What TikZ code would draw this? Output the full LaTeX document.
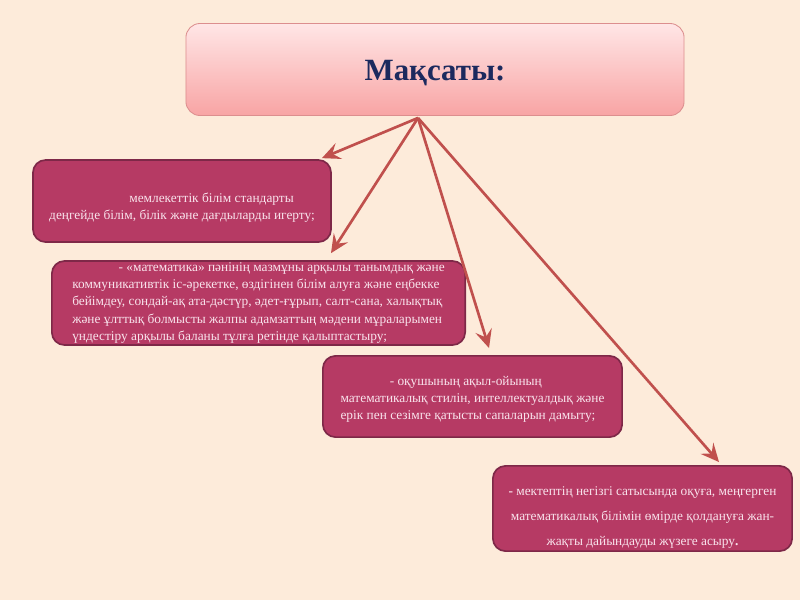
\documentclass[tikz,border=0pt]{standalone}
\usepackage{fontspec}
\setmainfont{Liberation Serif}
\usepackage{xcolor}
\usepackage{tikz}
\usetikzlibrary{arrows.meta,positioning,calc}
\definecolor{bgCream}{HTML}{FDEBDA}
\definecolor{goalFill}{HTML}{B63A64}
\definecolor{goalEdge}{HTML}{7E2848}
\definecolor{goalText}{HTML}{F9E3EC}
\definecolor{titleTop}{HTML}{FFE6E6}
\definecolor{titleBottom}{HTML}{F8A4A4}
\definecolor{titleEdge}{HTML}{DC8E8E}
\definecolor{titleNavy}{HTML}{1C2A5E}
\definecolor{arrowRed}{HTML}{C0504D}

\begin{document}
\begin{tikzpicture}[x=0.025cm,y=-0.025cm,
    goal/.style={draw=goalEdge, line width=1.2pt, fill=goalFill, rounded corners=9pt,
      text=goalText, inner sep=0pt, font=\fontsize{9.5}{12.1}\selectfont},
    arr/.style={draw=arrowRed, line width=1.9pt,
      -{Stealth[length=13pt,width=12pt,inset=5pt]}}]
    % Background
    \fill[bgCream] (0,0) rectangle (800,600);

    % Title
    \node[draw=titleEdge, line width=0.6pt, rounded corners=10pt,
      top color=titleTop, bottom color=titleBottom,
      minimum width=12.45cm, minimum height=2.3cm,
      text=titleNavy, font=\fontsize{22}{26}\selectfont\bfseries]
      (title) at (435,69.5) {\rule{0pt}{20pt}Мақсаты:};
    \coordinate (hub) at ($(title.south)+(-17,2)$);

    % Goals
    \node[goal, minimum width=7.45cm, minimum height=2.05cm, align=center]
      (std) at (182,201)
      {\rule{0pt}{16pt}\hspace*{42pt}мемлекеттік білім стандарты\\деңгейде білім, білік және дағдыларды игерту;};

    \node[goal, minimum width=10.33cm, minimum height=2.1cm, align=left]
      (math) at (258.5,303)
      {\hspace*{33pt}- «математика» пәнінің мазмұны арқылы танымдық және\\
       коммуникативтік іс-әрекетке, өздігінен білім алуға және еңбекке\\
       бейімдеу, сондай-ақ ата-дәстүр, әдет-ғұрып, салт-сана, халықтық\\
       және ұлттық болмысты жалпы адамзаттың мәдени мұраларымен\\
       үндестіру арқылы баланы тұлға ретінде қалыптастыру;};

    \node[goal, minimum width=7.48cm, minimum height=2.03cm, align=left]
      (mind) at (472.5,396.5)
      {\rule{0pt}{11pt}\hspace*{35pt}- оқушының ақыл-ойының\\
       математикалық стилін, интеллектуалдық және\\
       ерік пен сезімге қатысты сапаларын дамыту;};

    \node[goal, minimum width=7.48cm, minimum height=2.13cm, align=center,
      font=\fontsize{9.5}{17.8}\selectfont]
      (school) at (642.5,508.5)
      {\rule{0pt}{19pt}\textbf{-} мектептің негізгі сатысында оқуға, меңгерген\\
       математикалық білімін өмірде қолдануға жан-\\
       жақты дайындауды жүзеге асыру\textbf{.}};

    % Arrows
    \draw[arr] (hub) -- ($(std.north east)+(-10,-1)$);
    \draw[arr] (hub) -- ($(math.north west)+(280,-7)$);
    \draw[arr] (hub) -- ($(mind.north west)+(167,-7)$);
    \draw[arr] (hub) -- ($(school.north west)+(227,-3)$);
\end{tikzpicture}
\end{document}
